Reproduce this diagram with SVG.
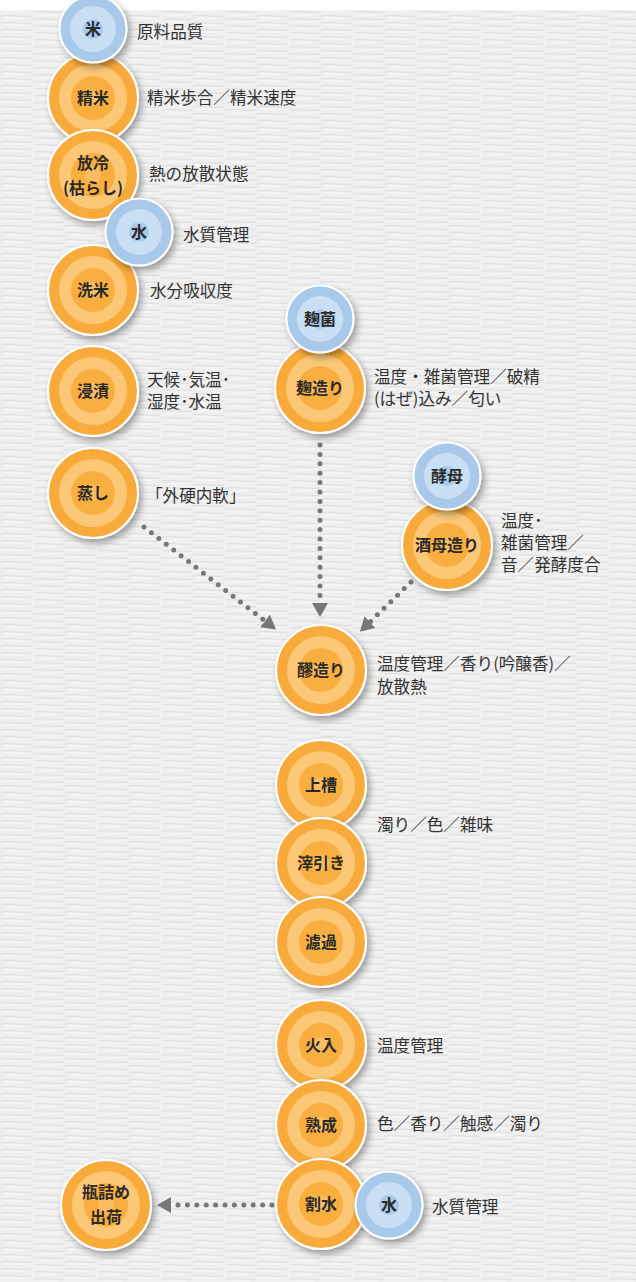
<svg xmlns="http://www.w3.org/2000/svg" xmlns:xlink="http://www.w3.org/1999/xlink" width="636" height="1282" viewBox="0 0 636 1282">
<style>
.lbl{font-family:"Noto Sans CJK JP","Noto Sans",sans-serif;font-size:16.6px;fill:#333;}
.nd{font-family:"Noto Sans CJK JP","Noto Sans",sans-serif;font-size:16px;font-weight:bold;fill:#2a2a2a;text-anchor:middle;}
.dots{fill:none;stroke:#777;stroke-width:5;stroke-linecap:round;stroke-dasharray:0 9.4;}
</style>
<defs>
<pattern id="tex" width="64" height="7" patternUnits="userSpaceOnUse">
<rect width="64" height="7" fill="#efefef"/>
<path d="M0 2 q8 -1 16 0 t16 0 M34 5 q8 -1 16 0 t14 0" stroke="#dedede" stroke-width="1" fill="none"/>
<path d="M4 4 h20 M40 1 h18" stroke="#fafafa" stroke-width="1"/>
</pattern>
<filter id="sh" x="-30%" y="-30%" width="170%" height="170%">
<feDropShadow dx="3" dy="4" stdDeviation="3.5" flood-color="#000" flood-opacity="0.35"/>
</filter>
<g id="oc">
<circle r="45" fill="#f8ab3a" stroke="#fff" stroke-width="2"/>
<circle r="34" fill="#fcc878"/>
<circle r="22" fill="#f9ae40"/>
<circle r="8" fill="#fbbd62"/>
</g>
<g id="bc">
<circle r="33.5" fill="#a8c9ea" stroke="#fff" stroke-width="2"/>
<circle r="23" fill="#c8dff4"/>
<circle r="10" fill="#a9cbeb"/>
</g>
<marker id="ah" viewBox="0 0 14 16" refX="0" refY="8" markerWidth="14" markerHeight="16" markerUnits="userSpaceOnUse" orient="auto">
<path d="M0 0 L14 8 L0 16 Z" fill="#777"/>
</marker>
</defs>
<rect width="636" height="1282" fill="#ffffff"/>
<rect y="10" width="636" height="1272" fill="url(#tex)"/>

<g id="connectors">
<line class="dots" x1="144" y1="527" x2="265" y2="621" marker-end="url(#ah)"/>
<line class="dots" x1="320" y1="445" x2="320" y2="603" marker-end="url(#ah)"/>
<line class="dots" x1="411" y1="582" x2="370" y2="622" marker-end="url(#ah)"/>
<line class="dots" x1="272" y1="1205" x2="171" y2="1205" marker-end="url(#ah)"/>
</g>

<g id="n-seimai"><use href="#oc" x="93" y="98" filter="url(#sh)"/><text class="nd" x="93" y="104">精米</text><text class="lbl" x="147" y="104">精米歩合／精米速度</text></g>
<g id="n-kome"><use href="#bc" x="93" y="29" filter="url(#sh)"/><text class="nd" x="93" y="35">米</text><text class="lbl" x="137" y="38">原料品質</text></g>
<g id="n-horei"><use href="#oc" x="93" y="175" filter="url(#sh)"/><text class="nd" x="93" y="169">放冷</text><text class="nd" x="93" y="194">(枯らし)</text><text class="lbl" x="149" y="180">熱の放散状態</text></g>
<g id="n-senmai"><use href="#oc" x="93" y="290" filter="url(#sh)"/><text class="nd" x="93" y="296">洗米</text><text class="lbl" x="150" y="297">水分吸収度</text></g>
<g id="n-mizu1"><use href="#bc" x="139" y="232" filter="url(#sh)"/><text class="nd" x="139" y="238">水</text><text class="lbl" x="183" y="241">水質管理</text></g>
<g id="n-shinseki"><use href="#oc" x="93" y="391" filter="url(#sh)"/><text class="nd" x="93" y="397">浸漬</text><text class="lbl" x="147" y="386">天候･気温･</text><text class="lbl" x="147" y="408">湿度･水温</text></g>
<g id="n-mushi"><use href="#oc" x="93" y="493" filter="url(#sh)"/><text class="nd" x="93" y="499">蒸し</text><text class="lbl" x="146" y="502">「外硬内軟」</text></g>

<g id="n-kojizukuri"><use href="#oc" x="320" y="388" filter="url(#sh)"/><text class="nd" x="320" y="394">麹造り</text><text class="lbl" x="374" y="383">温度・雑菌管理／破精</text><text class="lbl" x="374" y="405">(はぜ)込み／匂い</text></g>
<g id="n-kojikin"><use href="#bc" x="320" y="319" filter="url(#sh)"/><text class="nd" x="320" y="325">麹菌</text></g>

<g id="n-shubo"><use href="#oc" x="447" y="545" filter="url(#sh)"/><text class="nd" x="447" y="551">酒母造り</text><text class="lbl" x="501" y="527">温度･</text><text class="lbl" x="501" y="549">雑菌管理／</text><text class="lbl" x="501" y="571">音／発酵度合</text></g>
<g id="n-kobo"><use href="#bc" x="447" y="476" filter="url(#sh)"/><text class="nd" x="447" y="482">酵母</text></g>

<g id="n-moromi"><use href="#oc" x="321" y="670" filter="url(#sh)"/><text class="nd" x="321" y="676">醪造り</text><text class="lbl" x="377" y="670">温度管理／香り(吟醸香)／</text><text class="lbl" x="377" y="693">放散熱</text></g>

<g id="n-joso"><use href="#oc" x="321" y="785" filter="url(#sh)"/><text class="nd" x="321" y="791">上槽</text></g>
<g id="n-oribiki"><use href="#oc" x="321" y="863" filter="url(#sh)"/><text class="nd" x="321" y="869">滓引き</text><text class="lbl" x="377" y="831">濁り／色／雑味</text></g>
<g id="n-roka"><use href="#oc" x="321" y="942" filter="url(#sh)"/><text class="nd" x="321" y="948">濾過</text></g>

<g id="n-hiire"><use href="#oc" x="321" y="1045" filter="url(#sh)"/><text class="nd" x="321" y="1051">火入</text><text class="lbl" x="377" y="1052">温度管理</text></g>
<g id="n-jukusei"><use href="#oc" x="321" y="1125" filter="url(#sh)"/><text class="nd" x="321" y="1131">熟成</text><text class="lbl" x="377" y="1130">色／香り／触感／濁り</text></g>
<g id="n-warimizu"><use href="#oc" x="321" y="1204" filter="url(#sh)"/><text class="nd" x="321" y="1210">割水</text></g>
<g id="n-mizu2"><use href="#bc" x="389" y="1205" filter="url(#sh)"/><text class="nd" x="389" y="1211">水</text><text class="lbl" x="432" y="1213">水質管理</text></g>
<g id="n-bin"><use href="#oc" x="106" y="1205" filter="url(#sh)"/><text class="nd" x="106" y="1198">瓶詰め</text><text class="nd" x="106" y="1223">出荷</text></g>
</svg>
